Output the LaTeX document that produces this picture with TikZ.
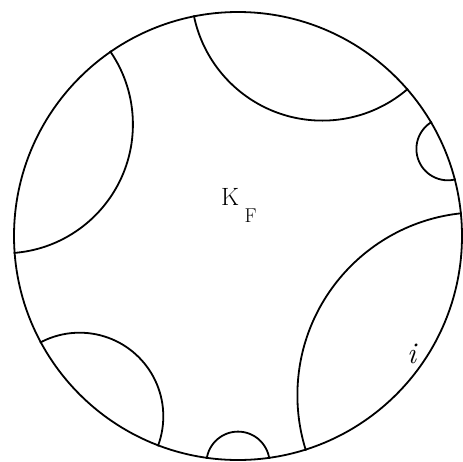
\documentclass[tikz,border=0pt]{standalone}
\begin{document}
\begin{tikzpicture}[x=1pt,y=-1pt,
  geo/.style={line width=1.8pt},
  lbl/.style={inner sep=0pt, anchor=base west}]
\useasboundingbox (0,0) rectangle (463,461);
\coordinate (O) at (238,236);
\begin{scope}
  \clip (O) circle (225pt);
  \draw[geo] (322.3,-10.4) circle (131pt);
  \draw[geo] (4.0,124.4) circle (128.9pt);
  \draw[geo] (447.8,148.9) circle (31.4pt);
  \draw[geo] (480.3,395.2) circle (182.9pt);
  \draw[geo] (79.6,416.4) circle (83.7pt);
  \draw[geo] (238,463.2) circle (31.6pt);
\end{scope}
\draw[geo] (O) circle (224pt);
\node[lbl, font=\fontsize{25}{25}\selectfont] (K) at (221,205) {K};
\node[lbl, font=\fontsize{20}{20}\selectfont] (F) at (244.5,222) {F};
\node[lbl, font=\fontsize{30}{30}\selectfont\itshape] (i) at (407,363) {i};
\end{tikzpicture}
\end{document}
